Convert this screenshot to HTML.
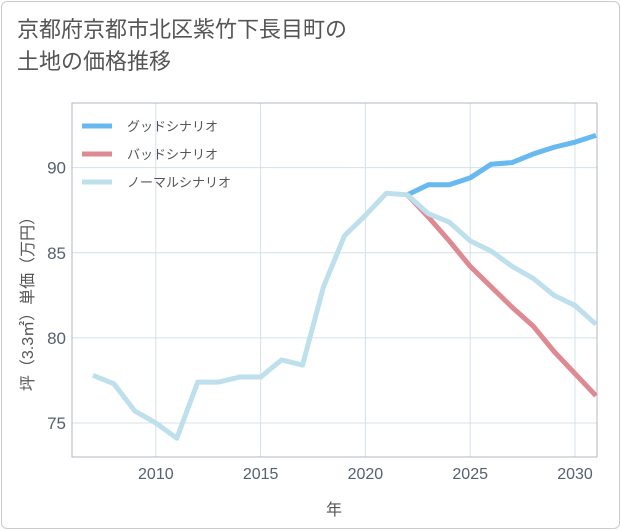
<!DOCTYPE html>
<html><head><meta charset="utf-8"><style>
body{margin:0;background:#fff;font-family:"Liberation Sans","Noto Sans CJK JP",sans-serif;}
.card{position:absolute;left:1px;top:1px;width:617px;height:526px;border:1px solid #ccc;border-radius:6px;}
.title{position:absolute;left:17px;top:14px;font-size:22px;line-height:32px;color:#555;}
</style></head><body>
<div class="card"></div>
<div class="title">京都府京都市北区紫竹下長目町の<br>土地の価格推移</div>
<svg id="c" width="621" height="530" style="position:absolute;left:0;top:0"></svg>
<script>
const years=[2007,2008,2009,2010,2011,2012,2013,2014,2015,2016,2017,2018,2019,2020,2021,2022,2023,2024,2025,2026,2027,2028,2029,2030,2031];
const normal=[77.8,77.3,75.7,75.0,74.1,77.4,77.4,77.7,77.7,78.7,78.4,83.0,86.0,87.2,88.5,88.4,87.3,86.8,85.7,85.1,84.2,83.5,82.5,81.9,80.8];
const goodYears=[2022,2023,2024,2025,2026,2027,2028,2029,2030,2031];
const good=[88.4,89.0,89.0,89.4,90.2,90.3,90.8,91.2,91.5,91.9];
const bad=[88.4,87.1,85.7,84.2,83.0,81.8,80.7,79.2,77.9,76.6];
const xTicks=[2010,2015,2020,2025,2030];
const yTicks=[75,80,85,90];
const L=72,R=597,T=103,B=457,x0=2006,x1=2031.05,y0=73.0,y1=93.8;
const X=v=>L+(v-x0)/(x1-x0)*(R-L);
const Y=v=>B-(v-y0)/(y1-y0)*(B-T);
const svg=document.getElementById('c');const NS='http://www.w3.org/2000/svg';
function mk(t,a,p){const e=document.createElementNS(NS,t);for(const k in a)e.setAttribute(k,a[k]);(p||svg).appendChild(e);return e;}
const defs=mk('clipPath',{id:'clip'});mk('rect',{x:L,y:T,width:R-L,height:B-T},defs);
xTicks.forEach(v=>{const l=mk('line',{x1:X(v),x2:X(v),y1:T,y2:B,stroke:'#d5e0ea','stroke-width':1});


const t=mk('text',{x:X(v),y:B+22,'text-anchor':'middle','font-size':16,fill:'#556070'});t.textContent=v;

});
yTicks.forEach(v=>{const l=mk('line',{x1:L,x2:R,y1:Y(v),y2:Y(v),stroke:'#d5e0ea','stroke-width':1});


const t=mk('text',{x:L-6,y:Y(v)+6,'text-anchor':'end','font-size':17,fill:'#556070'});t.textContent=v;

});
const fr=mk('rect',{x:L,y:T,width:R-L,height:B-T,fill:'none',stroke:'#b0b8c0','stroke-width':1});


function line(xs,ys,col,name){const p=mk('polyline',{points:xs.map((x,i)=>X(x)+','+Y(ys[i])).join(' '),fill:'none',stroke:col,'stroke-width':5,'stroke-linejoin':'round','clip-path':'url(#clip)'});

}
line(goodYears,good,'#67b9ef','good-scenario-line');
line(goodYears,bad,'#de8a92','bad-scenario-line');
line(years,normal,'#bde0ec','normal-scenario-line');
const leg=[['グッドシナリオ','#67b9ef'],['バッドシナリオ','#de8a92'],['ノーマルシナリオ','#bde0ec']];
leg.forEach((d,i)=>{const y=126+i*28;
const l=mk('line',{x1:82,x2:112,y1:y,y2:y,stroke:d[1],'stroke-width':5});


const t=mk('text',{x:127,y:y+5,'font-size':13,fill:'#555'});t.textContent=d[0];

});
const xt=mk('text',{x:334,y:515,'text-anchor':'middle','font-size':16,fill:'#555'});xt.textContent='年';


const yt=mk('text',{x:0,y:0,'text-anchor':'middle','font-size':16,fill:'#555',transform:'translate(33,300) rotate(-90)'});yt.textContent='坪（3.3㎡）単価（万円）';


</script>
</body></html>
